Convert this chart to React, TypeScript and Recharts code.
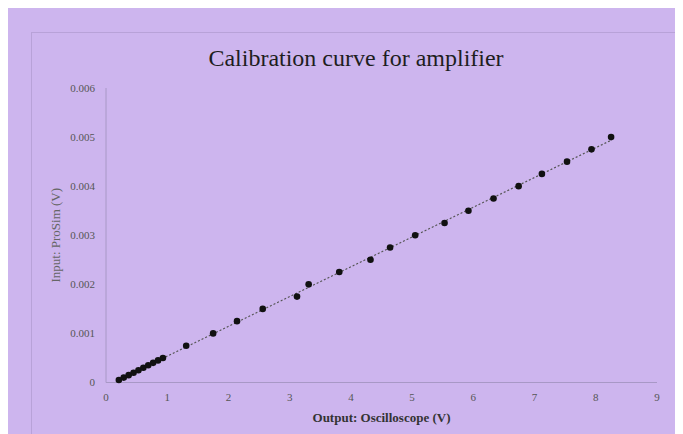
import { ScatterChart, Scatter, XAxis, YAxis } from 'recharts'

// output of the oscilloscope (V) vs input from ProSim (V)
const outputVolts = [
  0.21, 0.29, 0.37, 0.45, 0.53, 0.61, 0.69, 0.77, 0.85, 0.93,
  1.31, 1.75, 2.14, 2.56, 3.12, 3.31, 3.81, 4.32, 4.64, 5.05,
  5.53, 5.92, 6.33, 6.74, 7.12, 7.53, 7.93, 8.25,
]
const inputVolts = [
  0.00005, 0.0001, 0.00015, 0.0002, 0.00025, 0.0003, 0.00035, 0.0004, 0.00045, 0.0005,
  0.00075, 0.001, 0.00125, 0.0015, 0.00175, 0.002, 0.00225, 0.0025, 0.00275, 0.003,
  0.00325, 0.0035, 0.00375, 0.004, 0.00425, 0.0045, 0.00475, 0.005,
]
const xTicks = [0, 1, 2, 3, 4, 5, 6, 7, 8, 9]
const yTicks = [0, 0.001, 0.002, 0.003, 0.004, 0.005, 0.006]

const data = outputVolts.map((x, i) => ({ x, y: inputVolts[i] }))

const FONT = '"Liberation Serif", "Times New Roman", serif'
const BG = '#cdb5ee'
const AXIS = '#a898c6'

export default function App() {
  return (
    <div style={{ position: 'relative', width: 675, height: 426, background: BG, fontFamily: FONT }}>
      {/* chart frame */}
      <div
        style={{
          position: 'absolute',
          left: 23,
          top: 24,
          width: 643,
          height: 402,
          border: '1px solid #b8a2d8',
          borderBottom: 'none',
        }}
      />
      <div
        style={{
          position: 'absolute',
          left: 22,
          width: 652,
          top: 35,
          textAlign: 'center',
          fontFamily: FONT,
          fontSize: 24,
          lineHeight: '30px',
          color: '#1e1e1e',
        }}
      >
        Calibration curve for amplifier
      </div>

      <ScatterChart
        width={675}
        height={426}
        margin={{ top: 80, right: 26, left: 0, bottom: 0 }}
        style={{ position: 'absolute', left: 0, top: 0 }}
      >
        <XAxis
          type="number"
          dataKey="x"
          domain={[0, 9]}
          ticks={xTicks}
          height={51.5}
          tickLine={false}
          tickMargin={5}
          axisLine={{ stroke: AXIS }}
          tick={{ fill: '#555', fontSize: 11, fontFamily: FONT }}
          label={{
            value: 'Output: Oscilloscope (V)',
            position: 'center',
            dy: 9,
            fill: '#333',
            fontSize: 13,
            fontWeight: 'bold',
            fontFamily: FONT,
          }}
        />
        <YAxis
          type="number"
          dataKey="y"
          domain={[0, 0.006]}
          ticks={yTicks}
          width={98}
          tickLine={false}
          tickMargin={5}
          axisLine={{ stroke: AXIS }}
          tickFormatter={(v: number) => (v === 0 ? '0' : v.toFixed(3))}
          tick={{ fill: '#555', fontSize: 11, fontFamily: FONT }}
          label={{
            value: 'Input: ProSim (V)',
            angle: -90,
            position: 'center',
            dx: -2,
            fill: '#666',
            fontSize: 13,
            fontFamily: FONT,
          }}
        />
        <Scatter
          data={data}
          fill="#111"
          line={{ stroke: '#555', strokeWidth: 1.2, strokeDasharray: '2 2' }}
          lineType="fitting"
          shape={(p: any) => <circle cx={p.cx} cy={p.cy} r={3.3} fill="#111" />}
          isAnimationActive={false}
        />
      </ScatterChart>
    </div>
  )
}
